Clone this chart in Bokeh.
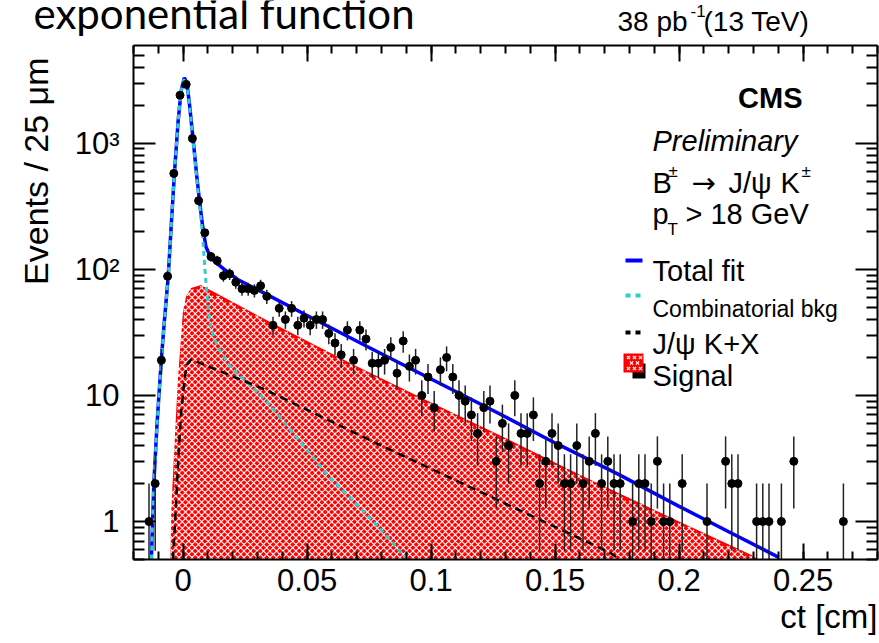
import math
import numpy as np
from bokeh.plotting import figure
from bokeh.layouts import column
from bokeh.models import Range1d, LinearAxis, LogAxis, FixedTicker, Label, BoxAnnotation, Title
from bokeh.embed import file_html
from bokeh.resources import INLINE

# ---------------- data ----------------
bin_centers = [-0.01375, -0.01125, -0.00875, -0.00625, -0.00375, -0.00125, 0.00125, 0.00375,
               0.00625, 0.00875, 0.01125, 0.01375, 0.01625, 0.01875, 0.02125, 0.02375,
               0.02625, 0.02875, 0.03125, 0.03375, 0.03625, 0.03875, 0.04125, 0.04375,
               0.04625, 0.04875, 0.05125, 0.05375, 0.05625, 0.05875, 0.06125, 0.06375,
               0.06625, 0.06875, 0.07125, 0.07375, 0.07625, 0.07875, 0.08125, 0.08375,
               0.08625, 0.08875, 0.09125, 0.09375, 0.09625, 0.09875, 0.10125, 0.10375,
               0.10625, 0.10875, 0.11125, 0.11375, 0.11625, 0.11875, 0.12125, 0.12375,
               0.12625, 0.12875, 0.13125, 0.13375, 0.13625, 0.13875, 0.14125, 0.14375,
               0.14625, 0.14875, 0.15125, 0.15375, 0.15625, 0.15875, 0.16125, 0.16375,
               0.16625, 0.16875, 0.17125, 0.17375, 0.17625, 0.18125, 0.18375, 0.18625,
               0.18875, 0.19125, 0.19375, 0.19625, 0.20125, 0.21125, 0.21875, 0.22125,
               0.22375, 0.23125, 0.23375, 0.23625, 0.24125, 0.24625, 0.26625]
counts = [1, 2, 19, 88, 576, 2400, 2925, 1090,
          350, 195, 126, 117, 89, 92, 79, 70,
          70, 68, 74, 61, 36, 49, 40, 49,
          36, 41, 36, 40, 40, 31, 26, 21,
          33, 19, 33, 28, 18, 18, 19, 24,
          15, 27, 17, 19, 10, 14, 8, 16,
          20, 14, 10, 9, 7, 5, 8, 9,
          3, 6, 4, 10, 5, 5, 7, 2,
          3, 5, 4, 2, 2, 4, 2, 3,
          5, 2, 3, 2, 2, 1, 2, 2,
          1, 3, 1, 1, 2, 1, 3, 2,
          2, 1, 1, 1, 1, 3, 1]

# total fit (blue)
fit_x = [-0.0128, -0.0118, -0.0105, -0.0088, -0.0075, -0.0060, -0.0048, -0.0035, -0.0020,
         -0.0008, 0.0005, 0.0015, 0.0025, 0.0040, 0.0055, 0.0066, 0.0079, 0.0092, 0.0112,
         0.0140, 0.0166, 0.0220, 0.0300, 0.0500, 0.0750, 0.1000, 0.1250, 0.1500, 0.1750,
         0.2000, 0.2200, 0.2402]
fit_y = [0.5, 2, 6, 19, 40, 88, 220, 576, 1500,
         2600, 3300, 3000, 2100, 1090, 550, 350, 218, 151, 123,
         110, 100, 83, 69, 43, 24, 13.5, 7.6, 4.2, 2.4,
         1.32, 0.83, 0.52]

# combinatorial background (cyan dashed)
bkg_x = [-0.0128, -0.0118, -0.0105, -0.0088, -0.0075, -0.0060, -0.0048, -0.0035, -0.0020,
         -0.0008, 0.0005, 0.0015, 0.0025, 0.0040, 0.0055, 0.0066, 0.0079, 0.0088, 0.0102,
         0.0112, 0.0140, 0.0193, 0.0327, 0.0460, 0.0594, 0.0675, 0.0788, 0.0889, 0.0920]
bkg_y = [0.5, 2, 6, 19, 40, 88, 220, 576, 1500,
         2600, 3280, 2960, 2060, 1060, 530, 330, 182, 100, 47,
         34, 24, 16.6, 9.5, 4.6, 2.2, 1.55, 0.9, 0.54, 0.45]

# J/psi K + X (black dashed)
jkx_x = [-0.0041, -0.0030, -0.0020, -0.0008, 0.0005, 0.0015, 0.0032, 0.0327, 0.0788, 0.1719, 0.1760]
jkx_y = [0.5, 1.2, 3.0, 7.3, 13, 17.5, 19.3, 11.2, 4.1, 0.57, 0.5]

# signal (red hatched area)
sig_x = [-0.0051, -0.0048, -0.0035, -0.0021, -0.0001, 0.0012, 0.0032, 0.0072, 0.0353,
         0.0675, 0.1000, 0.1300, 0.1600, 0.2000, 0.2294, 0.2350]
sig_y = [0.5, 1.18, 4.0, 13.4, 45, 61, 71, 75, 38,
         18, 8.8, 4.6, 2.35, 1.0, 0.54, 0.45]

x_tick_values = [0, 0.05, 0.1, 0.15, 0.2, 0.25]
x_tick_labels = ["0", "0.05", "0.1", "0.15", "0.2", "0.25"]
y_tick_values = [1, 10, 100, 1000]
y_tick_labels = ["1", "10", "10\u00b2", "10\u00b3"]

# ---------------- layout ----------------
W, H = 879, 643
STRIP = 44                      # height of the header strip
HEAD_SHIFT = 14                 # measured vertical offset of the header strip's frame
L, R, T, B = 133, 2, 1, 84      # borders of the main plot
X0, X1 = -0.02, 0.28
Y0, Y1 = 0.5, 5950
PH = H - STRIP
FW, FH = W - L - R, PH - T - B
FRAME_TOP = STRIP + T
FONT = "Liberation Sans"
LY0, LY1 = math.log10(Y0), math.log10(Y1)


def X(sx):
    return X0 + (sx - L) / FW * (X1 - X0)


def Y(sy):
    return 10 ** (LY0 + (FRAME_TOP + FH - sy) / FH * (LY1 - LY0))


def SX(x):
    return L + (x - X0) / (X1 - X0) * FW


def SY(y):
    return FRAME_TOP + FH - (math.log10(y) - LY0) / (LY1 - LY0) * FH


# header strip: a figure whose frame is the whole strip (units = pixels)
head = figure(width=W, height=STRIP, x_range=Range1d(0, W), y_range=Range1d(STRIP, 0),
              x_axis_type=None, y_axis_type=None, output_backend="svg", toolbar_location=None,
              min_border=0, min_border_left=0, min_border_right=0, min_border_top=0,
              min_border_bottom=0)
head.title = None
head.outline_line_color = None
head.background_fill_color = "white"
head.border_fill_color = "white"
head.frame_align = False


def hlab(text, x, y, size, font=FONT):
    head.add_layout(Label(x=x, y=y - HEAD_SHIFT, text=text, text_font=font,
                          text_font_size=f"{size}px", text_align="left",
                          text_baseline="alphabetic", text_color="black"))


hlab("exponential function", 33, 26, 42, font="Lato")
hlab("38 pb", 617, 35, 28)
hlab("-1", 690, 24, 17)
hlab("(13 TeV)", 703, 35, 28)

p = figure(width=W, height=PH, x_range=Range1d(X0, X1), y_range=Range1d(Y0, Y1),
           y_axis_type="log", output_backend="svg", toolbar_location=None,
           min_border_left=L, min_border_right=R, min_border_top=T, min_border_bottom=B)
p.title = None
p.frame_align = False
p.grid.visible = False
p.outline_line_color = None
p.background_fill_color = "white"
p.border_fill_color = "white"

x_minor = [round(-0.02 + 0.01 * i, 4) for i in range(31)]
y_minor = [m * 10.0 ** e for e in range(-1, 4) for m in range(2, 10)]


def style_axis(ax, tick_in, minor_in):
    ax.axis_line_color = "black"
    ax.axis_line_width = 2
    ax.major_tick_line_color = "black"
    ax.major_tick_line_width = 2
    ax.minor_tick_line_color = "black"
    ax.minor_tick_line_width = 2
    ax.major_tick_in = tick_in
    ax.major_tick_out = 0
    ax.minor_tick_in = minor_in
    ax.minor_tick_out = 0
    ax.major_label_text_font = FONT
    ax.major_label_text_font_size = "31px"
    ax.major_label_text_color = "black"


xa = p.xaxis[0]
xa.ticker = FixedTicker(ticks=x_tick_values, minor_ticks=x_minor)
xa.major_label_overrides = {v: s for v, s in zip(x_tick_values, x_tick_labels)}
style_axis(xa, 16, 8)
xa.major_label_standoff = 9

ya = p.yaxis[0]
ya.ticker = FixedTicker(ticks=y_tick_values, minor_ticks=y_minor)
ya.major_label_overrides = {v: s for v, s in zip(y_tick_values, y_tick_labels)}
style_axis(ya, 22, 11)
ya.major_label_standoff = 14

top = LinearAxis(ticker=FixedTicker(ticks=x_tick_values, minor_ticks=x_minor))
style_axis(top, 16, 8)
top.major_label_text_font_size = "1px"
top.major_label_overrides = {v: "" for v in x_tick_values}
top.major_label_standoff = 0
p.add_layout(top, "above")
right = LogAxis(ticker=FixedTicker(ticks=y_tick_values, minor_ticks=y_minor))
style_axis(right, 22, 11)
right.major_label_text_font_size = "1px"
right.major_label_overrides = {v: "" for v in y_tick_values}
right.major_label_standoff = 0
p.add_layout(right, "right")

# axis titles (ROOT style: at the end of each axis)
p.add_layout(Title(text="Events / 25 \u03bcm", align="right", offset=12, standoff=30,
                   vertical_align="top",
                   text_font=FONT, text_font_size="34px", text_font_style="normal",
                   text_color="black"), "left")
p.add_layout(Title(text="ct [cm]", align="right", standoff=4,
                   text_font=FONT, text_font_size="33px", text_font_style="normal",
                   text_color="black"), "below")

# ---------------- glyphs ----------------
RED = "#ff0000"
p.varea(x=sig_x, y1=[0.01] * len(sig_x), y2=sig_y, fill_color=RED)

# white texture over the signal area (pattern positions only)
log_sig = np.log10(sig_y)
pat_x, pat_y = [], []
step = 6.5
row = 0
sx = SX(sig_x[0]) + 2
while sx < SX(sig_x[-1]):
    ytop = 10 ** np.interp(X(sx), sig_x, log_sig)
    sy_top = SY(ytop) + 2
    sy = FRAME_TOP + FH - 2 - (step / 2 if row % 2 else 0)
    while sy > sy_top:
        pat_x.append(X(sx))
        pat_y.append(Y(sy))
        sy -= step
    sx += step / 2
    row += 1
p.scatter(pat_x, pat_y, marker="x", size=4.5, line_color="white", line_width=1.2)

p.line(fit_x, fit_y, line_color="#0000ff", line_width=3.5)
p.line(bkg_x, bkg_y, line_color="#33cccc", line_width=3, line_dash="5 4")
p.line(jkx_x, jkx_y, line_color="black", line_width=2.5, line_dash="8 5")

lo = [max(c - math.sqrt(c), 1e-3) for c in counts]
hi = [c + math.sqrt(c) for c in counts]
p.segment(x0=bin_centers, y0=lo, x1=bin_centers, y1=hi, line_color="#222222", line_width=1.5)
p.scatter(bin_centers, counts, size=8, color="black")


# ---------------- texts inside the frame ----------------
def lab(text, sx, sy, size, style="normal", align="left", font=FONT):
    p.add_layout(Label(x=X(sx), y=Y(sy), text=text, text_font=font,
                       text_font_size=f"{size}px", text_font_style=style,
                       text_align=align, text_baseline="alphabetic", text_color="black"))


lab("CMS", 802, 97, 29, style="bold", align="right")
lab("Preliminary", 652, 140, 29, style="italic")
lab("B", 652, 182, 29)
lab("\u00b1", 668, 171, 17)
lab("\u2192", 691, 182, 29, font="DejaVu Sans")
lab("J/\u03c8", 728, 182, 29)
lab("K", 780, 182, 29)
lab("\u00b1", 801, 171, 17)
lab("p", 652, 213, 29)
lab("T", 667, 229, 17)
lab("> 18 GeV", 685, 213, 29)

lab("Total fit", 652, 270, 29)
lab("Combinatorial bkg", 652, 308, 23)
lab("J/\u03c8 K+X", 652, 343, 29)
lab("Signal", 652, 375, 29)


def box(l, r, t, b, color):
    p.add_layout(BoxAnnotation(left=X(l), right=X(r), top=Y(t), bottom=Y(b),
                               fill_color=color, fill_alpha=1, line_color=None))


box(625, 642, 258, 262, "#0000ff")
box(625, 630, 293, 297, "#33cccc")
box(635, 640, 293, 297, "#33cccc")
box(625, 630, 330, 334, "black")
box(635, 640, 330, 334, "black")
box(632, 645, 363, 378, "black")
box(623, 643, 353, 372, RED)
p.scatter([X(628), X(634), X(640), X(631), X(637), X(628), X(634), X(640)],
          [Y(357), Y(357), Y(357), Y(362.5), Y(362.5), Y(368), Y(368), Y(368)],
          marker="x", size=4.5, line_color="white", line_width=1.2, level="overlay")

open("out.html", "w").write(file_html(column(head, p), INLINE))
